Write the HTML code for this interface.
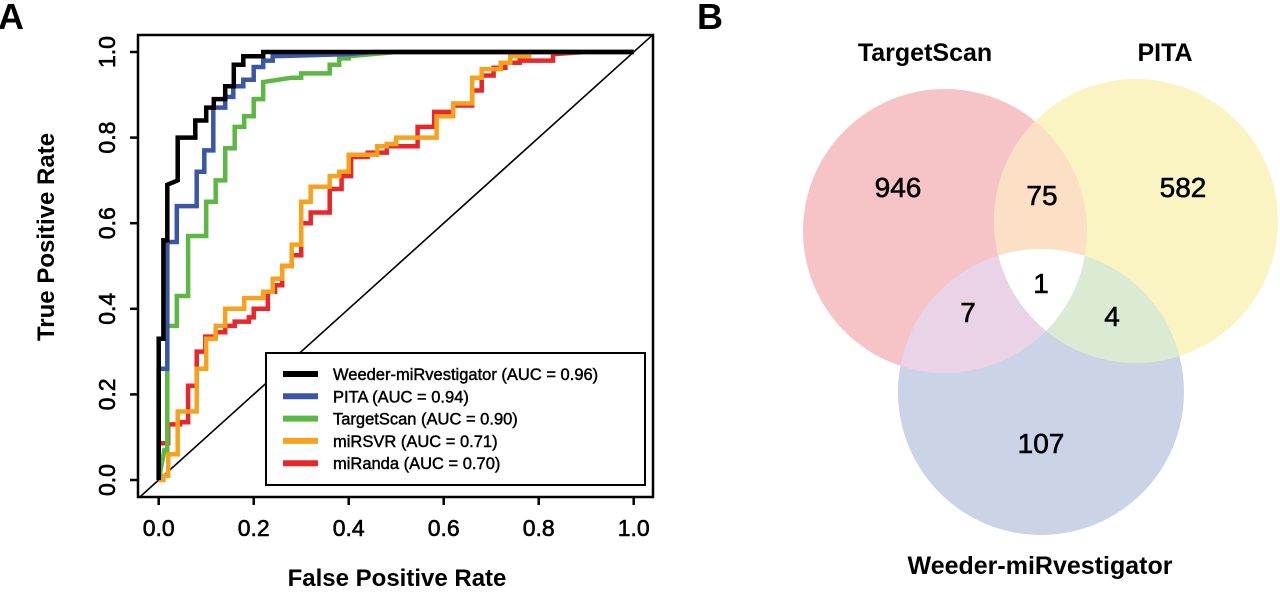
<!DOCTYPE html>
<html><head><meta charset="utf-8"><style>
body{margin:0;background:#fff;width:1280px;height:590px;overflow:hidden}
svg{font-family:"Liberation Sans",Arial,sans-serif}
.t{stroke:#000;stroke-width:0.6px}
</style></head><body>
<svg id="fig" width="1280" height="590" xmlns="http://www.w3.org/2000/svg">
<text x="-2" y="29" font-size="36" font-weight="bold">A</text>
<text x="697" y="29" font-size="36" font-weight="bold">B</text>
<g id="roc"></g>
<g id="venn"></g>
</svg>
<script>
const xTicks=[0,0.2,0.4,0.6,0.8,1.0];
const yTicks=[0,0.2,0.4,0.6,0.8,1.0];
const tickLabels=["0.0","0.2","0.4","0.6","0.8","1.0"];
const seriesNames=["Weeder-miRvestigator (AUC = 0.96)","PITA (AUC = 0.94)","TargetScan (AUC = 0.90)","miRSVR (AUC = 0.71)","miRanda (AUC = 0.70)"];
const seriesColors=["#000000","#3a57a6","#5db843","#f6a21e","#e8262b"];
const weederPts=[[0,0],[0,0.33],[0.01,0.33],[0.01,0.56],[0.018,0.56],[0.018,0.69],[0.04,0.70],[0.04,0.80],[0.077,0.80],[0.077,0.84],[0.10,0.84],[0.10,0.87],[0.116,0.87],[0.116,0.89],[0.14,0.89],[0.14,0.92],[0.158,0.92],[0.158,0.97],[0.178,0.97],[0.178,0.99],[0.22,0.99],[0.22,1.0],[1,1]];
const pitaPts=[[0,0],[0,0.26],[0.018,0.26],[0.018,0.556],[0.038,0.556],[0.038,0.64],[0.08,0.64],[0.08,0.72],[0.096,0.72],[0.096,0.77],[0.115,0.77],[0.115,0.87],[0.14,0.87],[0.14,0.895],[0.157,0.895],[0.157,0.92],[0.178,0.92],[0.178,0.935],[0.2,0.935],[0.2,0.965],[0.22,0.965],[0.22,0.98],[0.24,0.98],[0.24,0.99],[0.4,0.995],[0.45,1.0],[1,1]];
const targetPts=[[0,0],[0.012,0.07],[0.018,0.07],[0.018,0.36],[0.038,0.36],[0.038,0.43],[0.062,0.43],[0.062,0.57],[0.10,0.57],[0.10,0.65],[0.12,0.65],[0.12,0.70],[0.14,0.70],[0.14,0.775],[0.16,0.775],[0.16,0.825],[0.18,0.825],[0.18,0.85],[0.2,0.85],[0.2,0.89],[0.22,0.89],[0.22,0.93],[0.28,0.94],[0.30,0.94],[0.30,0.95],[0.36,0.95],[0.36,0.97],[0.38,0.97],[0.38,0.985],[0.40,0.985],[0.40,0.99],[0.5,1.0],[1,1]];
const svrPts=[[0,0],[0.01,0],[0.01,0.01],[0.02,0.01],[0.02,0.06],[0.04,0.06],[0.04,0.16],[0.08,0.16],[0.08,0.26],[0.10,0.26],[0.10,0.33],[0.12,0.33],[0.12,0.36],[0.14,0.36],[0.14,0.40],[0.18,0.40],[0.18,0.425],[0.22,0.425],[0.22,0.44],[0.24,0.44],[0.24,0.47],[0.26,0.47],[0.26,0.50],[0.28,0.50],[0.28,0.55],[0.30,0.55],[0.30,0.65],[0.32,0.65],[0.32,0.685],[0.36,0.685],[0.36,0.71],[0.38,0.71],[0.38,0.72],[0.40,0.72],[0.40,0.76],[0.46,0.76],[0.46,0.78],[0.48,0.78],[0.48,0.785],[0.50,0.785],[0.50,0.80],[0.585,0.80],[0.585,0.85],[0.62,0.85],[0.62,0.88],[0.66,0.88],[0.66,0.94],[0.68,0.94],[0.68,0.96],[0.72,0.96],[0.72,0.975],[0.74,0.975],[0.74,0.99],[0.78,0.99],[0.78,1.0],[1,1]];
const mirandaPts=[[0,0],[0,0.086],[0.02,0.086],[0.02,0.13],[0.045,0.13],[0.045,0.135],[0.062,0.135],[0.062,0.22],[0.08,0.22],[0.08,0.30],[0.098,0.30],[0.098,0.335],[0.12,0.335],[0.12,0.345],[0.14,0.345],[0.14,0.36],[0.16,0.36],[0.16,0.37],[0.19,0.37],[0.19,0.38],[0.20,0.38],[0.20,0.40],[0.23,0.40],[0.23,0.44],[0.245,0.44],[0.245,0.455],[0.26,0.455],[0.26,0.50],[0.28,0.50],[0.28,0.525],[0.30,0.525],[0.30,0.60],[0.32,0.60],[0.32,0.625],[0.36,0.625],[0.36,0.68],[0.385,0.68],[0.385,0.71],[0.405,0.71],[0.405,0.755],[0.44,0.755],[0.44,0.765],[0.48,0.765],[0.48,0.78],[0.545,0.78],[0.545,0.825],[0.58,0.825],[0.58,0.86],[0.62,0.86],[0.62,0.875],[0.66,0.875],[0.66,0.91],[0.68,0.91],[0.68,0.945],[0.705,0.945],[0.705,0.963],[0.73,0.963],[0.73,0.975],[0.76,0.975],[0.76,0.98],[0.83,0.98],[0.83,0.995],[0.9,1.0],[1,1]];
const allSeries=[weederPts,pitaPts,targetPts,svrPts,mirandaPts];
const vennCounts=[946,75,582,1,7,4,107];
const vennSets=["TargetScan","PITA","Weeder-miRvestigator"];

const NS="http://www.w3.org/2000/svg";
function mk(tag,attrs,parent,txt){const e=document.createElementNS(NS,tag);for(const k in attrs)e.setAttribute(k,attrs[k]);if(txt!==undefined)e.textContent=txt;parent.appendChild(e);return e;}
const X=v=>158.7+v*475;
const Y=v=>480-v*428;
const roc=document.getElementById('roc');
const bx0=138,bx1=653,by0=35,by1=497;
mk('clipPath',{id:'plotclip'},roc);
mk('rect',{x:bx0,y:by0,width:bx1-bx0,height:by1-by0},document.getElementById('plotclip'));
const diag=mk('line',{x1:X(-0.05),y1:Y(-0.05),x2:X(1.05),y2:Y(1.05),stroke:'#000','stroke-width':1.6,'clip-path':'url(#plotclip)'},roc);


for(let i=allSeries.length-1;i>=0;i--){
  const d=allSeries[i].map((p,j)=>(j?'L':'M')+X(p[0]).toFixed(1)+' '+Y(p[1]).toFixed(1)).join(' ');
  const p=mk('path',{d:d,fill:'none',stroke:seriesColors[i],'stroke-width':4.5,'clip-path':'url(#plotclip)'},roc);
  
  
}
const box=mk('rect',{x:bx0,y:by0,width:bx1-bx0,height:by1-by0,fill:'none',stroke:'#000','stroke-width':2.5},roc);


xTicks.forEach((v,i)=>{
  const t=mk('line',{x1:X(v),y1:by1,x2:X(v),y2:by1+8,stroke:'#000','stroke-width':2.5},roc);
  
  
  const l=mk('text',{x:X(v),y:536,'font-size':23,'text-anchor':'middle',class:'t'},roc,tickLabels[i]);
  
  
});
yTicks.forEach((v,i)=>{
  const t=mk('line',{x1:bx0,y1:Y(v),x2:bx0-8,y2:Y(v),stroke:'#000','stroke-width':2.5},roc);
  
  
  const l=mk('text',{x:115,y:Y(v),'font-size':23,'text-anchor':'middle',class:'t',transform:`rotate(-90 115 ${Y(v)})`},roc,tickLabels[i]);
  
  
});
const xt=mk('text',{x:397,y:586,'font-size':24,'font-weight':'bold','text-anchor':'middle'},roc,'False Positive Rate');


const yt=mk('text',{x:54,y:237,'font-size':24,'font-weight':'bold','text-anchor':'middle',transform:'rotate(-90 54 237)'},roc,'True Positive Rate');


const lg=mk('g',{},roc);


mk('rect',{x:266,y:353,width:379,height:132,fill:'#fff',stroke:'#000','stroke-width':2},lg);
seriesNames.forEach((n,i)=>{
  const yy=374+i*22.3;
  const g=mk('g',{},lg);
  
  
  mk('line',{x1:283,y1:yy,x2:318,y2:yy,stroke:seriesColors[i],'stroke-width':6},g);
  mk('text',{x:333,y:yy+6,'font-size':16.5,class:'t','style':'stroke-width:0.45px'},g,n);
});

const venn=document.getElementById('venn');
const circles=[{cx:945,cy:231,r:142,fill:'#f6c4c6'},{cx:1136,cy:221,r:142,fill:'#faf4c3'},{cx:1041,cy:392,r:143,fill:'#cbd3e6'}];
const defs=mk('defs',{},venn);
circles.forEach((c,i)=>{const cp=mk('clipPath',{id:'vc'+i},defs);mk('circle',{cx:c.cx,cy:c.cy,r:c.r},cp);});
const cp01=mk('clipPath',{id:'vc01','clip-path':'url(#vc0)'},defs);mk('circle',{cx:circles[1].cx,cy:circles[1].cy,r:circles[1].r},cp01);
circles.forEach((c,i)=>{const e=mk('circle',{cx:c.cx,cy:c.cy,r:c.r,fill:c.fill},venn);});
const ov=[[0,1,'#fbe0c6'],[0,2,'#ead3e6'],[1,2,'#dbebd3']];
ov.forEach(o=>{const g=mk('g',{'clip-path':`url(#vc${o[0]})`},venn);const c=circles[o[1]];const e=mk('circle',{cx:c.cx,cy:c.cy,r:c.r,fill:o[2]},g);});
{const g=mk('g',{'clip-path':'url(#vc01)'},venn);const c=circles[2];const e=mk('circle',{cx:c.cx,cy:c.cy,r:c.r,fill:'#ffffff'},g);}
const cpos=[[898,197],[1042,205],[1183,197],[1041,293],[968,322],[1112,326],[1041,453]];
vennCounts.forEach((v,i)=>{const t=mk('text',{x:cpos[i][0],y:cpos[i][1],'font-size':28,'text-anchor':'middle',class:'t'},venn,String(v));});
const lpos=[[925,61],[1165,61],[1040,574]];
vennSets.forEach((s,i)=>{const t=mk('text',{x:lpos[i][0],y:lpos[i][1],'font-size':25,'font-weight':'bold','text-anchor':'middle'},venn,s);});
</script>
</body></html>
